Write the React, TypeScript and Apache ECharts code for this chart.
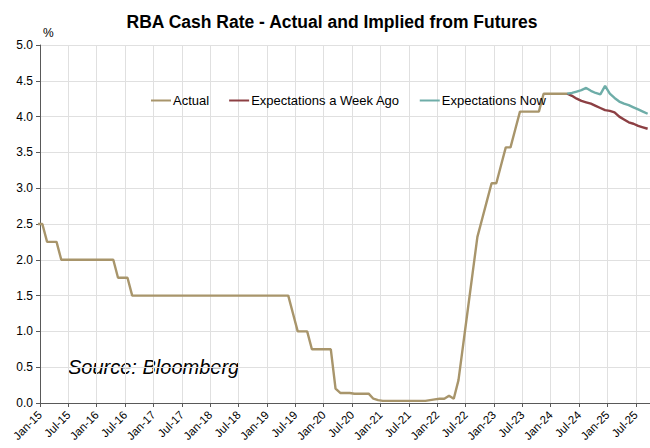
import React, { useEffect, useRef } from "react";
import * as echarts from "echarts";

const FONT = "'Liberation Sans', Arial, sans-serif";

// Monthly actual cash rate (%), starting Dec-14
const actualStart = "Dec-14";
const actual2014 = [2.5];
const actual2015 = [2.5, 2.25, 2.25, 2.25, 2.0, 2.0, 2.0, 2.0, 2.0, 2.0, 2.0, 2.0];
const actual2016 = [2.0, 2.0, 2.0, 2.0, 1.75, 1.75, 1.75, 1.5, 1.5, 1.5, 1.5, 1.5];
const actual2017 = [1.5, 1.5, 1.5, 1.5, 1.5, 1.5, 1.5, 1.5, 1.5, 1.5, 1.5, 1.5];
const actual2018 = [1.5, 1.5, 1.5, 1.5, 1.5, 1.5, 1.5, 1.5, 1.5, 1.5, 1.5, 1.5];
const actual2019 = [1.5, 1.5, 1.5, 1.5, 1.5, 1.25, 1.0, 1.0, 1.0, 0.75, 0.75, 0.75];
const actual2020 = [0.75, 0.75, 0.2, 0.14, 0.14, 0.14, 0.13, 0.13, 0.13, 0.13, 0.06, 0.04];
const actual2021 = [0.03, 0.03, 0.03, 0.03, 0.03, 0.03, 0.03, 0.03, 0.03, 0.03, 0.04, 0.05];
const actual2022 = [0.06, 0.06, 0.1, 0.06, 0.32, 0.82, 1.32, 1.82, 2.32, 2.57, 2.82, 3.07];
const actual2023 = [3.07, 3.32, 3.57, 3.57, 3.82, 4.07, 4.07, 4.07, 4.07, 4.07, 4.32, 4.32];
const actual2024 = [4.32, 4.32, 4.32, 4.32];

// Futures-implied paths, monthly, starting Apr-24
const expectStart = "Apr-24";
const expectWeekAgo = [4.32, 4.29, 4.25, 4.22, 4.2, 4.18, 4.15, 4.12, 4.09, 4.08, 4.06, 4.0, 3.96, 3.92, 3.9, 3.87, 3.85, 3.83];
const expectNow = [4.32, 4.33, 4.35, 4.37, 4.4, 4.36, 4.33, 4.31, 4.43, 4.32, 4.26, 4.21, 4.18, 4.16, 4.13, 4.1, 4.07, 4.04];

const xTickLabels = [
  "Jan-15", "Jul-15", "Jan-16", "Jul-16", "Jan-17", "Jul-17", "Jan-18", "Jul-18",
  "Jan-19", "Jul-19", "Jan-20", "Jul-20", "Jan-21", "Jul-21", "Jan-22", "Jul-22",
  "Jan-23", "Jul-23", "Jan-24", "Jul-24", "Jan-25", "Jul-25",
];

const seriesNames = ["Actual", "Expectations a Week Ago", "Expectations Now"];
const seriesColors = ["#A8956B", "#8C3F43", "#6EADA8"];

const MONTHS = ["Jan", "Feb", "Mar", "Apr", "May", "Jun", "Jul", "Aug", "Sep", "Oct", "Nov", "Dec"];
function monthIndex(label: string): number {
  const [m, y] = label.split("-");
  return (2000 + Number(y) - 2015) * 12 + MONTHS.indexOf(m);
}
function toPoints(start: string, values: number[]): [number, number][] {
  const s = monthIndex(start);
  // plotted at mid-month
  return values.map((v, i) => [s + i + 0.5, v]);
}

export default function App() {
  const ref = useRef<HTMLDivElement>(null);
  useEffect(() => {
    if (!ref.current) return;
    const chart = echarts.init(ref.current, null, { renderer: "svg" });
    const actual = [
      ...actual2014, ...actual2015, ...actual2016, ...actual2017, ...actual2018,
      ...actual2019, ...actual2020, ...actual2021, ...actual2022, ...actual2023, ...actual2024,
    ];
    const dataSets = [
      toPoints(actualStart, actual),
      toPoints(expectStart, expectWeekAgo),
      toPoints(expectStart, expectNow),
    ];
    chart.setOption({
      animation: false,
      backgroundColor: "#fff",
      grid: { left: 40, right: 0, top: 45, bottom: 45, containLabel: false },
      legend: {
        left: 146,
        top: 89,
        icon: "rect",
        itemWidth: 20,
        itemHeight: 2,
        itemGap: 20,
        textStyle: { fontFamily: FONT, fontSize: 13, color: "#000", padding: [0, 0, 0, -3] },
        data: seriesNames,
      },
      xAxis: {
        type: "value",
        min: 0,
        max: 129,
        interval: 6,
        axisLine: { show: true, onZero: false, lineStyle: { color: "#595959", width: 1 } },
        axisTick: { show: true, length: 4, lineStyle: { color: "#595959" } },
        axisLabel: {
          rotate: 45,
          margin: 10,
          fontFamily: FONT,
          fontSize: 11.5,
          color: "#000",
          showMaxLabel: false,
          formatter: (v: number) => (v % 6 === 0 && xTickLabels[v / 6] ? xTickLabels[v / 6] : ""),
        },
        splitLine: { show: true, lineStyle: { color: "#E0E0E0", width: 1 } },
      },
      yAxis: {
        type: "value",
        min: 0,
        max: 5,
        interval: 0.5,
        axisLine: { show: true, lineStyle: { color: "#595959", width: 1 } },
        axisTick: { show: true, length: 4, lineStyle: { color: "#595959" } },
        axisLabel: {
          margin: 7,
          fontFamily: FONT,
          fontSize: 12,
          color: "#000",
          formatter: (v: number) => v.toFixed(1),
        },
        splitLine: { show: true, lineStyle: { color: "#E0E0E0", width: 1 } },
      },
      series: seriesNames.map((name, k) => ({
        name,
        type: "line",
        data: dataSets[k],
        symbol: "none",
        clip: true,
        color: seriesColors[k],
        lineStyle: { color: seriesColors[k], width: 2.4 },
      })),
      graphic: [
        {
          type: "text",
          x: 332,
          y: 22,
          style: {
            text: "RBA Cash Rate - Actual and Implied from Futures",
            fontFamily: FONT,
            fontSize: 17.5,
            fontWeight: "bold",
            fill: "#000",
            textAlign: "center",
            textVerticalAlign: "middle",
          },
        },
        {
          type: "text",
          x: 43,
          y: 33,
          style: { text: "%", fontFamily: FONT, fontSize: 12, fill: "#000", textVerticalAlign: "middle" },
        },
        {
          type: "text",
          x: 68,
          y: 367,
          style: {
            text: "Source: Bloomberg",
            fontFamily: FONT,
            fontSize: 20,
            fontStyle: "italic",
            fill: "#000",
            textVerticalAlign: "middle",
          },
        },
      ],
    });
    return () => chart.dispose();
  }, []);
  return (
    <div
      ref={ref}
      style={{ position: "absolute", left: 0, top: 0, width: 650, height: 448 }}
    />
  );
}
